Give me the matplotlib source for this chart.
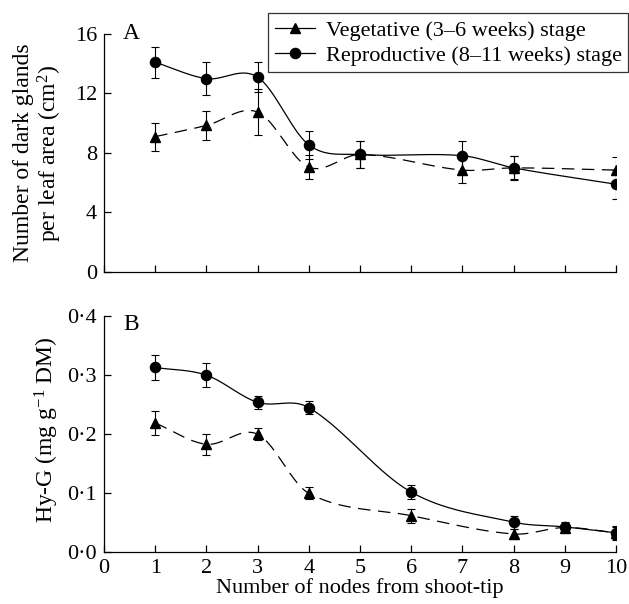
import numpy as np
import matplotlib
matplotlib.use('Agg')
import matplotlib.pyplot as plt
from matplotlib.ticker import FuncFormatter
from matplotlib.lines import Line2D

plt.rcParams['font.family'] = ['Liberation Serif', 'DejaVu Serif']
plt.rcParams['mathtext.fontset'] = 'custom'
plt.rcParams['mathtext.rm'] = 'Liberation Serif'
plt.rcParams['mathtext.it'] = 'Liberation Serif:italic'
plt.rcParams['font.size'] = 16

# panel A: dark glands per leaf area
nodes_a = [1, 2, 3, 4, 5, 7, 8, 10]
veg_a = [9.1, 9.85, 10.75, 7.05, 7.9, 6.85, 7.0, 6.85]
veg_a_err = [0.95, 0.95, 1.55, 0.8, 0.9, 0.85, 0.78, 0.85]
rep_a = [14.1, 13.0, 13.1, 8.55, 7.9, 7.82, 7.0, 5.9]
rep_a_err = [1.05, 1.1, 1.0, 0.95, 0.88, 1.0, 0.8, 0.98]

# panel B: Hy-G content
nodes_b = [1, 2, 3, 4, 6, 8, 9, 10]
veg_b = [0.219, 0.183, 0.200, 0.100, 0.062, 0.031, 0.042, 0.033]
veg_b_err = [0.02, 0.018, 0.01, 0.01, 0.012, 0.008, 0.008, 0.01]
rep_b = [0.313, 0.300, 0.254, 0.245, 0.102, 0.051, 0.043, 0.033]
rep_b_err = [0.021, 0.02, 0.011, 0.011, 0.012, 0.011, 0.008, 0.012]

leg_labels = ['Vegetative (3–6 weeks) stage', 'Reproductive (8–11 weeks) stage']


def smooth(xs, ys, n=40):
    # cubic hermite curve through the points, for drawing the connecting line
    xs = np.asarray(xs, float)
    ys = np.asarray(ys, float)
    m = np.zeros_like(ys)
    m[1:-1] = (ys[2:] - ys[:-2]) / (xs[2:] - xs[:-2])
    m[0] = (ys[1] - ys[0]) / (xs[1] - xs[0])
    m[-1] = (ys[-1] - ys[-2]) / (xs[-1] - xs[-2])
    px, py = [], []
    for i in range(len(xs) - 1):
        h = xs[i + 1] - xs[i]
        t = np.linspace(0, 1, n)
        h00 = 2 * t**3 - 3 * t**2 + 1
        h10 = t**3 - 2 * t**2 + t
        h01 = -2 * t**3 + 3 * t**2
        h11 = t**3 - t**2
        px.extend(xs[i] + t * h)
        py.extend(h00 * ys[i] + h10 * h * m[i] + h01 * ys[i + 1] + h11 * h * m[i + 1])
    return px, py


def draw_series(ax, x, y, err, marker, ls):
    ax.errorbar(x, y, yerr=err, fmt='none', ecolor='black', elinewidth=0.8,
                capsize=3, capthick=0.8, zorder=2)
    sx, sy = smooth(x, y)
    ax.plot(sx, sy, color='black', lw=0.9, linestyle=ls, zorder=3)
    ax.plot(x, y, linestyle='none', marker=marker, color='black',
            markersize=7.3 if marker == 'o' else 7.8, zorder=4)


def style_axes(ax):
    ax.spines['top'].set_visible(False)
    ax.spines['right'].set_visible(False)
    ax.spines['left'].set_linewidth(0.9)
    ax.spines['bottom'].set_linewidth(0.9)
    ax.tick_params(direction='in', length=5, width=0.9, pad=5, labelsize=16)
    ax.set_xlim(0, 10)
    ax.set_xticks(range(0, 11))


fig = plt.figure(figsize=(6.29, 6.04), dpi=100)
ax1 = fig.add_axes([0.1653, 0.5497, 0.814, 0.394])
ax2 = fig.add_axes([0.1653, 0.0856, 0.814, 0.391])

dash = (0, (10, 6))

# panel A
draw_series(ax1, nodes_a, veg_a, veg_a_err, '^', dash)
draw_series(ax1, nodes_a, rep_a, rep_a_err, 'o', '-')
style_axes(ax1)
ax1.set_ylim(0, 16)
ax1.set_yticks([0, 4, 8, 12, 16])
ax1.set_xticklabels([])
ax1.set_ylabel('Number of dark glands\nper leaf area (cm$^2$)', fontsize=17,
               linespacing=1.1)
ax1.yaxis.set_label_coords(-0.078, 0.5)
ax1.text(0.037, 1.004, 'A', transform=ax1.transAxes, fontsize=17,
         ha='left', va='center')

# panel B
draw_series(ax2, nodes_b, veg_b, veg_b_err, '^', dash)
draw_series(ax2, nodes_b, rep_b, rep_b_err, 'o', '-')
style_axes(ax2)
ax2.set_ylim(0, 0.4)
ax2.set_yticks([0, 0.1, 0.2, 0.3, 0.4])
ax2.yaxis.set_major_formatter(FuncFormatter(lambda v, p: f'{v:.1f}'.replace('.', '·')))
ax2.set_ylabel('Hy-G (mg g$^{-1}$ DM)', fontsize=17)
ax2.yaxis.set_label_coords(-0.083, 0.52)
ax2.set_xlabel('Number of nodes from shoot-tip', fontsize=16, labelpad=0)
ax2.text(0.037, 0.965, 'B', transform=ax2.transAxes, fontsize=17,
         ha='left', va='center')

handles = [Line2D([], [], color='black', lw=0.9, marker='^', markersize=7.8),
           Line2D([], [], color='black', lw=0.9, marker='o', markersize=7.3)]
leg = fig.legend(handles, leg_labels, loc='upper right',
                 bbox_to_anchor=(0.999, 0.978), fontsize=16, frameon=True,
                 fancybox=False, edgecolor='black', handlelength=1.8,
                 handletextpad=0.5, borderpad=0.3, labelspacing=0.2,
                 borderaxespad=0)
leg.get_frame().set_linewidth(0.9)

fig.savefig('out.png', dpi=100)
